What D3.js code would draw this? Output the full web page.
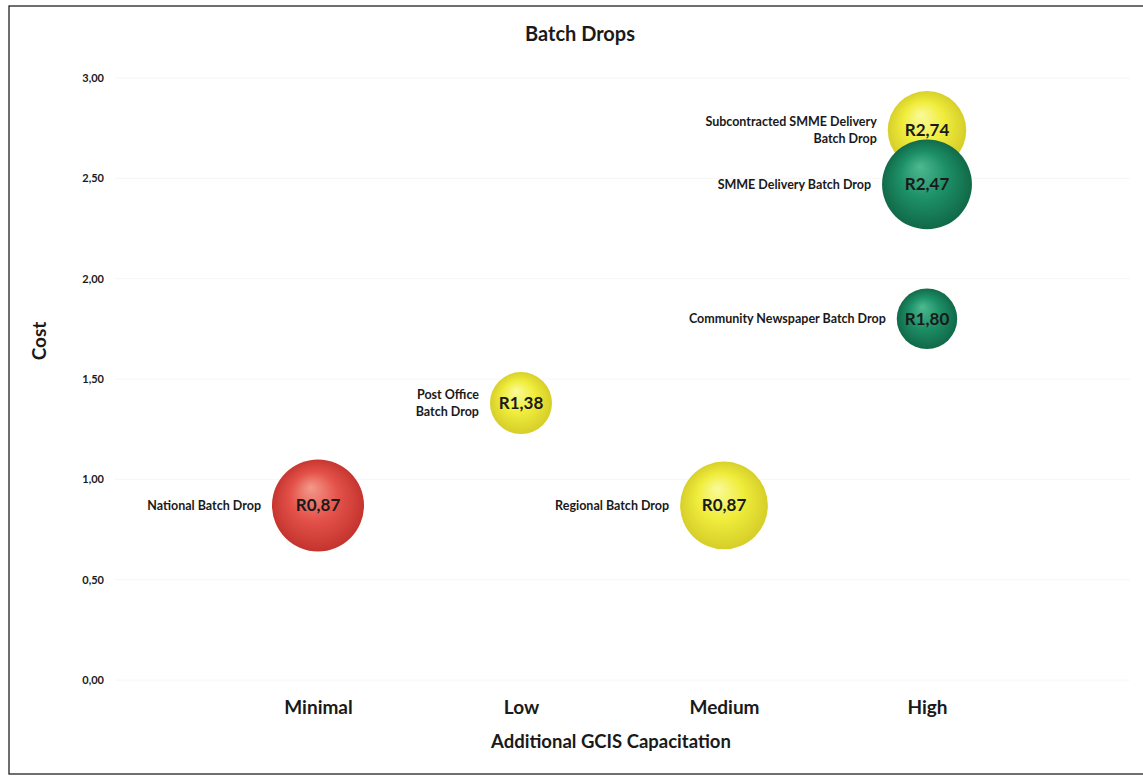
<!DOCTYPE html>
<html><head><meta charset="utf-8">
<script src="https://cdn.jsdelivr.net/npm/d3@7"></script>
<style>
body{margin:0;background:#fff;}
text{font-family:Lato,"Open Sans",sans-serif;font-weight:bold;fill:#1a1a1a;}
</style></head>
<body><svg id="c" width="1143" height="777"></svg>
<script>
const categories = ["Minimal","Low","Medium","High"];
const names = ["National Batch Drop","Post Office|Batch Drop","Regional Batch Drop","Subcontracted SMME Delivery|Batch Drop","SMME Delivery Batch Drop","Community Newspaper Batch Drop"];
const catIndex = [1,2,3,4,4,4];
const costs = [0.87,1.38,0.87,2.74,2.47,1.80];
const sizes = [2.2,1.0,2.0,1.6,2.1,0.95];
const colorKeys = ["red","yellow","yellow","yellow","green","green"];
const yTicks = [0,0.5,1,1.5,2,2.5,3];

const svg = d3.select("#c");
svg.append("rect").attr("x",9).attr("y",6).attr("width",1150).attr("height",768)
  .attr("fill","#fff").attr("stroke","#222").attr("stroke-width",1.3);

const x = d3.scaleLinear().domain([0,5]).range([115,1130]);
const y = d3.scaleLinear().domain([0,3]).range([680,78]);
const r = d3.scaleSqrt().domain([0,2.2]).range([0,46]);

const defs = svg.append("defs");
const pal = {red:["#f39a8a","#e4524a","#c2322c"],yellow:["#fafa9a","#f0ed3c","#d4cc28"],green:["#4fb990","#1d9068","#106645"]};
Object.entries(pal).forEach(([k,c])=>{
  const g=defs.append("radialGradient").attr("id","g-"+k).attr("cx","50%").attr("cy","50%").attr("r","52%").attr("fx","42%").attr("fy","30%");
  g.append("stop").attr("offset","0%").attr("stop-color",c[0]);
  g.append("stop").attr("offset","50%").attr("stop-color",c[1]);
  g.append("stop").attr("offset","100%").attr("stop-color",c[2]);
});

// very faint gridlines
svg.append("g").selectAll("line").data(yTicks).join("line")
  .attr("x1",115).attr("x2",1130).attr("y1",d=>y(d)).attr("y2",d=>y(d))
  .attr("stroke","#f6f6f6").attr("stroke-width",1);

const fmt = d=>d3.format(".2f")(d).replace(".",",");
const yAxis = d3.axisLeft(y).tickValues(yTicks).tickFormat(fmt).tickSize(0).tickPadding(0);
const ga = svg.append("g").attr("transform","translate(104,0)").call(yAxis);
ga.select(".domain").remove();
ga.selectAll("text").attr("font-size",11).attr("font-family","Lato").attr("font-weight","bold").attr("fill","#1a1a1a");

const xAxis = d3.axisBottom(x).tickValues([1,2,3,4]).tickFormat(d=>categories[d-1]).tickSize(0).tickPadding(0);
const gx = svg.append("g").attr("transform","translate(0,698)").call(xAxis);
gx.select(".domain").remove();
gx.selectAll("text").attr("font-size",19).attr("font-family","Lato").attr("font-weight","bold").attr("fill","#1a1a1a").attr("dy","0.85em");

svg.append("text").attr("x",580).attr("y",41).attr("text-anchor","middle").attr("font-size",20).text("Batch Drops");
svg.append("text").attr("x",611).attr("y",748).attr("text-anchor","middle").attr("font-size",18.5).text("Additional GCIS Capacitation");
svg.append("text").attr("transform","translate(46,341) rotate(-90)").attr("text-anchor","middle").attr("font-size",19).text("Cost");

const data = costs.map((c,i)=>({i,c,name:names[i],cx:catIndex[i],s:sizes[i],col:colorKeys[i]}));
const gb = svg.append("g");
data.forEach(d=>{
  gb.append("circle").attr("cx",x(d.cx)).attr("cy",y(d.c)).attr("r",r(d.s)).attr("fill",`url(#g-${d.col})`);
});
data.forEach(d=>{
  gb.append("text").attr("x",x(d.cx)).attr("y",y(d.c)).attr("dy","0.35em").attr("text-anchor","middle")
    .attr("font-size",17).attr("fill","#1c1c1c").text("R"+fmt(d.c));
  const lines=d.name.split("|");
  const lx = x(d.cx)-r(d.s)-11;
  const t = gb.append("text").attr("text-anchor","end").attr("font-size",12.5);
  const lh=17;
  lines.forEach((ln,k)=>{
    t.append("tspan").attr("x",lx).attr("y",y(d.c)+(k-(lines.length-1)/2)*lh).attr("dy","0.35em").text(ln);
  });
});
</script></body></html>
